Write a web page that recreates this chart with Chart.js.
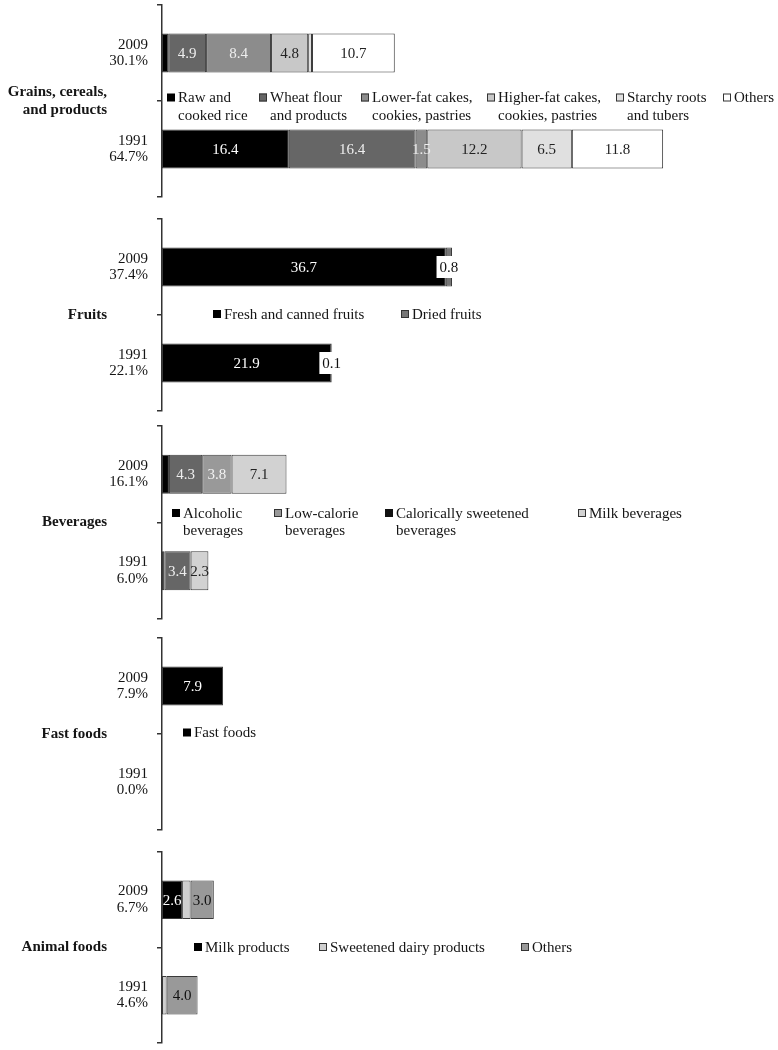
<!DOCTYPE html>
<html><head><meta charset="utf-8">
<script src="https://cdn.jsdelivr.net/npm/chart.js@4"></script>
<style>
html,body{margin:0;padding:0;background:#fff;}
body{width:778px;height:1050px;position:relative;overflow:hidden;}
canvas{position:absolute;left:0;}
</style></head><body>
<script>
// ---------- DATA ----------
const years = ['2009', '1991'];

// Grains, cereals, and products
const grainsTitle = ['Grains, cereals,', 'and products'];
const grainsTotals = ['30.1%', '64.7%'];
const grainsSeries = ['Raw and\ncooked rice', 'Wheat flour\nand products', 'Lower-fat cakes,\ncookies, pastries', 'Higher-fat cakes,\ncookies, pastries', 'Starchy roots\nand tubers', 'Others'];
const grainsRice = [0.8, 16.4];
const grainsWheat = [4.9, 16.4];
const grainsLowerFat = [8.4, 1.5];
const grainsHigherFat = [4.8, 12.2];
const grainsStarchy = [0.5, 6.5];
const grainsOthers = [10.7, 11.8];

// Fruits
const fruitsTitle = ['Fruits'];
const fruitsTotals = ['37.4%', '22.1%'];
const fruitsSeries = ['Fresh and canned fruits', 'Dried fruits'];
const fruitsFresh = [36.7, 21.9];
const fruitsDried = [0.8, 0.1];

// Beverages (stack order)
const bevTitle = ['Beverages'];
const bevTotals = ['16.1%', '6.0%'];
const bevSeries = ['Alcoholic\nbeverages', 'Calorically sweetened\nbeverages', 'Low-calorie\nbeverages', 'Milk beverages'];
const bevAlcoholic = [0.9, 0.3];
const bevSweetened = [4.3, 3.4];
const bevLowCal = [3.8, 0.0];
const bevMilk = [7.1, 2.3];

// Fast foods
const fastTitle = ['Fast foods'];
const fastTotals = ['7.9%', '0.0%'];
const fastSeries = ['Fast foods'];
const fastFoods = [7.9, 0.0];

// Animal foods
const animalTitle = ['Animal foods'];
const animalTotals = ['6.7%', '4.6%'];
const animalSeries = ['Milk products', 'Sweetened dairy products', 'Others'];
const animalMilk = [2.6, 0.0];
const animalSweetDairy = [1.1, 0.6];
const animalOthers = [3.0, 4.0];

// ---------- STYLE / LAYOUT ----------
const FONT = '"Liberation Serif", "Times New Roman", serif';
const TEXT = '#151515';
const EDGE = '#3a3a3a';
const AXIS_LEFT = 162;
const XMAX = 75;

function ds(label, data, color, labelColor, extra) {
  return Object.assign({
    label: label, data: data, backgroundColor: color, borderColor: EDGE,
    borderWidth: 1, borderSkipped: false, labelColor: labelColor,
    categoryPercentage: 1, barPercentage: 0.405
  }, extra || {});
}

const panels = [
  {
    top: 5, bottom: 197, title: grainsTitle, totals: grainsTotals, legendDy: 1,
    datasets: [
      ds(grainsSeries[0], grainsRice, '#000000', '#ffffff'),
      ds(grainsSeries[1], grainsWheat, '#666666', '#eeeeee'),
      ds(grainsSeries[2], grainsLowerFat, '#8c8c8c', '#eeeeee'),
      ds(grainsSeries[3], grainsHigherFat, '#c8c8c8', '#222222'),
      ds(grainsSeries[4], grainsStarchy, '#e0e0e0', '#222222'),
      ds(grainsSeries[5], grainsOthers, '#ffffff', '#222222')
    ],
    legend: [[0, 167], [1, 259], [2, 361], [3, 487], [4, 616], [5, 723]]
  },
  {
    top: 219, bottom: 411, title: fruitsTitle, totals: fruitsTotals, legendDy: 3.5,
    datasets: [
      ds(fruitsSeries[0], fruitsFresh, '#000000', '#ffffff'),
      ds(fruitsSeries[1], fruitsDried, '#777777', '#111111', {labelBoxed: true})
    ],
    legend: [[0, 213], [1, 401]]
  },
  {
    top: 426, bottom: 619, title: bevTitle, totals: bevTotals, legendDy: -5,
    datasets: [
      ds(bevSeries[0], bevAlcoholic, '#000000', '#ffffff'),
      ds(bevSeries[1], bevSweetened, '#666666', '#eeeeee', {legendColor: '#111111'}),
      ds(bevSeries[2], bevLowCal, '#999999', '#f2f2f2'),
      ds(bevSeries[3], bevMilk, '#d2d2d2', '#222222')
    ],
    legend: [[0, 172], [2, 274], [1, 385], [3, 578]]
  },
  {
    top: 638, bottom: 830, title: fastTitle, totals: fastTotals, legendDy: 3,
    datasets: [
      ds(fastSeries[0], fastFoods, '#000000', '#ffffff')
    ],
    legend: [[0, 183]]
  },
  {
    top: 852, bottom: 1043, title: animalTitle, totals: animalTotals, legendDy: 4,
    datasets: [
      ds(animalSeries[0], animalMilk, '#000000', '#ffffff'),
      ds(animalSeries[1], animalSweetDairy, '#cfcfcf', '#222222'),
      ds(animalSeries[2], animalOthers, '#999999', '#111111')
    ],
    legend: [[0, 194], [1, 319], [2, 521]]
  }
];

// ---------- PLUGINS ----------
const valueLabels = {
  id: 'valueLabels',
  afterDatasetsDraw(chart) {
    const ctx = chart.ctx;
    ctx.save();
    ctx.font = '15px ' + FONT;
    ctx.textAlign = 'center';
    ctx.textBaseline = 'middle';
    chart.data.datasets.forEach((d, i) => {
      const meta = chart.getDatasetMeta(i);
      meta.data.forEach((el, j) => {
        const v = d.data[j];
        if (v == null) return;
        if (!d.labelBoxed && v < 1.5) return;
        const x = (el.x + el.base) / 2, y = el.y;
        const t = v.toFixed(1);
        if (d.labelBoxed) {
          const w = ctx.measureText(t).width + 6;
          ctx.fillStyle = '#ffffff';
          ctx.fillRect(x - w / 2, y - 11, w, 22);
        }
        ctx.fillStyle = d.labelColor;
        ctx.fillText(t, x, y + 1);
      });
    });
    ctx.restore();
  }
};

function makeExtras(p) {
  return {
    id: 'panelExtras',
    afterDraw(chart) {
      const ctx = chart.ctx;
      const ys = chart.scales.y;
      const mid = (ys.top + ys.bottom) / 2;
      ctx.save();
      // category title
      ctx.font = 'bold 15px ' + FONT;
      ctx.fillStyle = TEXT;
      ctx.textAlign = 'right';
      ctx.textBaseline = 'middle';
      const lh = 18;
      const n = p.title.length;
      p.title.forEach((line, k) => {
        ctx.fillText(line, 107, mid + (k - (n - 1) / 2) * lh);
      });
      // legend
      ctx.font = '15px ' + FONT;
      ctx.textAlign = 'left';
      ctx.textBaseline = 'alphabetic';
      const base = mid + p.legendDy;
      p.legend.forEach(([di, x]) => {
        const d = chart.data.datasets[di];
        const col = d.legendColor || d.backgroundColor;
        ctx.fillStyle = col;
        ctx.fillRect(x, base - 8.5, 8, 8);
        if (col !== '#000000' && col !== '#111111') {
          ctx.strokeStyle = '#333333';
          ctx.lineWidth = 1;
          ctx.strokeRect(x + 0.5, base - 8, 7, 7);
        }
        ctx.fillStyle = TEXT;
        d.label.split('\n').forEach((line, k) => {
          ctx.fillText(line, x + 11, base + k * 17.5);
        });
      });
      ctx.restore();
    }
  };
}

// ---------- BUILD ----------
panels.forEach(p => {
  const pad = 10;
  const h = p.bottom - p.top + pad * 2;
  const c = document.createElement('canvas');
  c.width = 778; c.height = h;
  c.style.top = (p.top - pad) + 'px';
  c.style.width = '778px'; c.style.height = h + 'px';
  document.body.appendChild(c);
  const labels = years.map((y, i) => [y, p.totals[i]]);
  new Chart(c, {
    type: 'bar',
    data: { labels: labels, datasets: p.datasets },
    options: {
      indexAxis: 'y',
      responsive: false,
      animation: false,
      layout: { padding: { top: pad, bottom: pad, left: 0, right: 778 - AXIS_LEFT - 580 } },
      plugins: { legend: { display: false }, tooltip: { enabled: false } },
      scales: {
        x: { stacked: true, min: 0, max: XMAX, display: false },
        y: {
          stacked: true,
          afterFit(s) { s.width = AXIS_LEFT; s.paddingTop = 0; s.paddingBottom = 0; },
          grid: { offset: true, drawOnChartArea: false, drawTicks: true, tickLength: 5, color: '#333333', lineWidth: 1.5 },
          border: { display: true, color: '#333333', width: 1.5 },
          ticks: { color: TEXT, font: { family: FONT, size: 15, lineHeight: 1.1 }, padding: 9, autoSkip: false }
        }
      }
    },
    plugins: [valueLabels, makeExtras(p)]
  });
});
</script>
</body></html>
